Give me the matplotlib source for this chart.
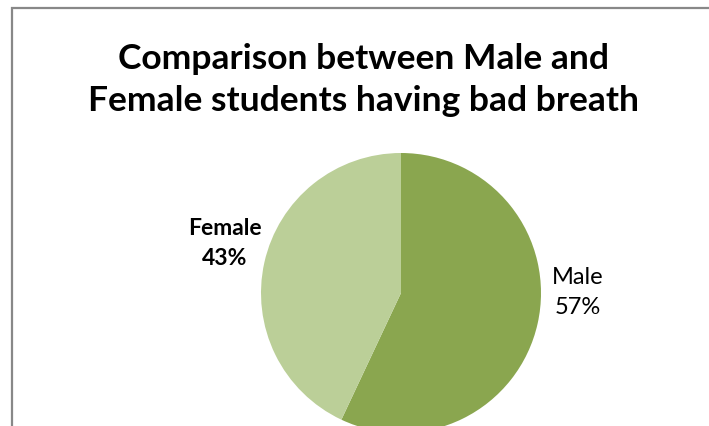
import matplotlib
matplotlib.use('Agg')
import matplotlib.pyplot as plt
from matplotlib.patches import Rectangle

# Данные
labels = ['Male', 'Female']
shares = [57, 43]
colors = ['#8aa64f', '#bbcf98']
title = 'Comparison between Male and\nFemale students having bad breath'

W, H = 709, 427
fig = plt.figure(figsize=(W / 100, H / 100), dpi=100)

# Рамка области диаграммы (правый и нижний края за кадром)
fig.patches.append(Rectangle((12 / W, -0.1), 1.2, (H - 9) / H + 0.1, transform=fig.transFigure,
                             fill=False, edgecolor='#888888', linewidth=1.6))

fig.text(363 / W, 1 - 80 / H, title, ha='center', va='center', fontsize=25.5,
         fontweight='bold', family='Lato', linespacing=1.4)

# Круг: центр (401, 294) px, радиус 140 px
r = 140
ax = fig.add_axes([(401 - r) / W, (H - 294 - r) / H, 2 * r / W, 2 * r / H])
ax.pie(shares, colors=colors, startangle=90, counterclock=False,
       wedgeprops=dict(linewidth=0))
ax.set_xlim(-1, 1)
ax.set_ylim(-1, 1)
ax.set_aspect('auto')
ax.axis('off')

ax.text(-1.26, 0.36, f'{labels[1]}\n{shares[1]}%', ha='center', va='center',
        fontsize=16.5, fontweight='bold', family='Lato', linespacing=1.5)
ax.text(1.26, 0.01, f'{labels[0]}\n{shares[0]}%', ha='center', va='center',
        fontsize=17, family='Lato', linespacing=1.5)

plt.savefig('out.png', dpi=100)
